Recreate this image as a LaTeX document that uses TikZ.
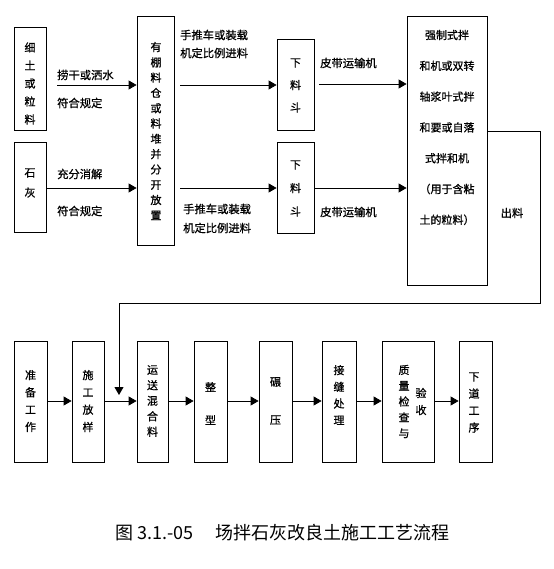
\documentclass[tikz,border=0pt]{standalone}
\usepackage{fontspec}
\newfontfamily\cjk{Noto Sans CJK SC}[FakeBold=0.8]
\newfontfamily\cjkcap{Noto Sans CJK SC}
\usetikzlibrary{arrows.meta}
\begin{document}
\begin{tikzpicture}[x=1pt,y=-1pt,
  box/.style={draw, line width=0.8pt, inner sep=0pt, align=center},
  arr/.style={line width=0.8pt, -{Triangle[length=8pt,width=9pt]}},
  ln/.style={line width=0.8pt},
  lbl/.style={font=\cjk\fontsize{11.3}{13}\selectfont, inner sep=0pt, anchor=west},
  vt/.style={font=\cjk\fontsize{11}{#1}\selectfont, inner sep=0pt, align=center},
]
\useasboundingbox (0,0) rectangle (553,569);
% top boxes
\node[box, minimum width=32pt, minimum height=103pt] (a1) at (30,78.5) {};
\node[vt=18] (a1t) at (30,83.5) {细\\土\\或\\粒\\料};
\node[box, minimum width=32pt, minimum height=90pt] (a2) at (30,187) {};
\node[vt=20] (a2t) at (30,183) {石\\灰};
\node[box, minimum width=37pt, minimum height=229pt] (b) at (155.5,130.5) {};
\node[vt=15.3] (bt) at (156,131) {有\\棚\\料\\仓\\或\\料\\堆\\并\\分\\开\\放\\置};
\node[box, minimum width=37pt, minimum height=91pt] (c1) at (295.5,84.5) {};
\node[vt=22.5] (c1t) at (295.5,85.5) {下\\料\\斗};
\node[box, minimum width=37pt, minimum height=91pt] (c2) at (295.5,187.5) {};
\node[vt=23.5] (c2t) at (295.5,188.5) {下\\料\\斗};
\node[box, minimum width=80pt, minimum height=269pt] (d) at (447,150.5) {};
\node[vt=30.8] (dt) at (447,127.5) {强制式拌\\和机或双转\\轴浆叶式拌\\和要或自落\\式拌和机\\（用于含粘\\土的粒料）};
% top connectors
\coordinate (s1) at (57,85);
\draw[arr] (s1) -- (s1 -| b.west);
\draw[arr] (a2.east |- 0,188) -- (b.west |- 0,188);
\coordinate (s2) at (180,85);
\draw[arr] (s2) -- (s2 -| c1.west);
\coordinate (s3) at (180,188);
\draw[arr] (s3) -- (s3 -| c2.west);
\coordinate (s4) at (319,84);
\draw[arr] (s4) -- (s4 -| d.west);
\draw[arr] (c2.east |- 0,188) -- (d.west |- 0,188);
% labels
\node[lbl] (l1) at (57,75) {捞干或洒水};
\node[lbl] (l2) at (57,103) {符合规定};
\node[lbl] (l3) at (57,174) {充分消解};
\node[lbl] (l4) at (57,211) {符合规定};
\node[lbl] (l5) at (180,35) {手推车或装载};
\node[lbl] (l6) at (180,53) {机定比例进料};
\node[lbl] (l7) at (183,209) {手推车或装载};
\node[lbl] (l8) at (183,228) {机定比例进料};
\node[lbl] (l9) at (320,63) {皮带运输机};
\node[lbl] (l10) at (320,212) {皮带运输机};
\node[lbl, anchor=center] (l11) at (512,213) {出料};
% bottom boxes
\node[box, minimum width=33pt, minimum height=121pt] (e1) at (30.5,401.5) {};
\node[vt=17.3] at (30.5,401) {准\\备\\工\\作};
\node[box, minimum width=32pt, minimum height=121pt] (e2) at (88,401.5) {};
\node[vt=17.3] at (88,401) {施\\工\\放\\样};
\node[box, minimum width=31pt, minimum height=121pt] (e3) at (152.5,401.5) {};
\node[vt=15.5] at (152.5,401) {运\\送\\混\\合\\料};
\node[box, minimum width=33pt, minimum height=121pt] (e4) at (210.5,401.5) {};
\node[vt=33] at (210.5,403.5) {整\\型};
\node[box, minimum width=33pt, minimum height=121pt] (e5) at (275.5,401.5) {};
\node[vt=38] at (275.5,401) {碾\\压};
\node[box, minimum width=34pt, minimum height=121pt] (e6) at (339,401.5) {};
\node[vt=16.7] at (339,395) {接\\缝\\处\\理};
\node[box, minimum width=52pt, minimum height=121pt] (e7) at (408,401.5) {};
\node[vt=15.8] at (404,401.5) {质\\量\\检\\查\\与};
\node[vt=17] at (421,401.5) {验\\收};
\node[box, minimum width=33pt, minimum height=121pt] (e8) at (475.5,401.5) {};
\node[vt=17] at (474,402.5) {下\\道\\工\\序};
% bottom connectors
\draw[arr] (e1.east |- 0,401) -- (e2.west |- 0,401);
\draw[arr] (e2.east |- 0,401) -- (e3.west |- 0,401);
\draw[arr] (e3.east |- 0,401) -- (e4.west |- 0,401);
\draw[arr] (e4.east |- 0,401) -- (e5.west |- 0,401);
\draw[arr] (e5.east |- 0,401) -- (e6.west |- 0,401);
\draw[arr] (e6.east |- 0,401) -- (e7.west |- 0,401);
\draw[arr] (e7.east |- 0,401) -- (e8.west |- 0,401);
% outlet route
\coordinate (o1) at (540,131);
\coordinate (o2) at (540,303);
\coordinate (o3) at (119,303);
\coordinate (o4) at (119,395);
\draw[ln] (d.east |- o1) -- (o1) -- (o2) -- (o3);
\draw[arr] (o3) -- (o4);
% caption
\node[font=\cjkcap\fontsize{18}{20}\selectfont, inner sep=0pt] (cap) at (282.5,533) {图 3.1.-05\hspace{1.2em}场拌石灰改良土施工工艺流程};
\end{tikzpicture}
\end{document}
